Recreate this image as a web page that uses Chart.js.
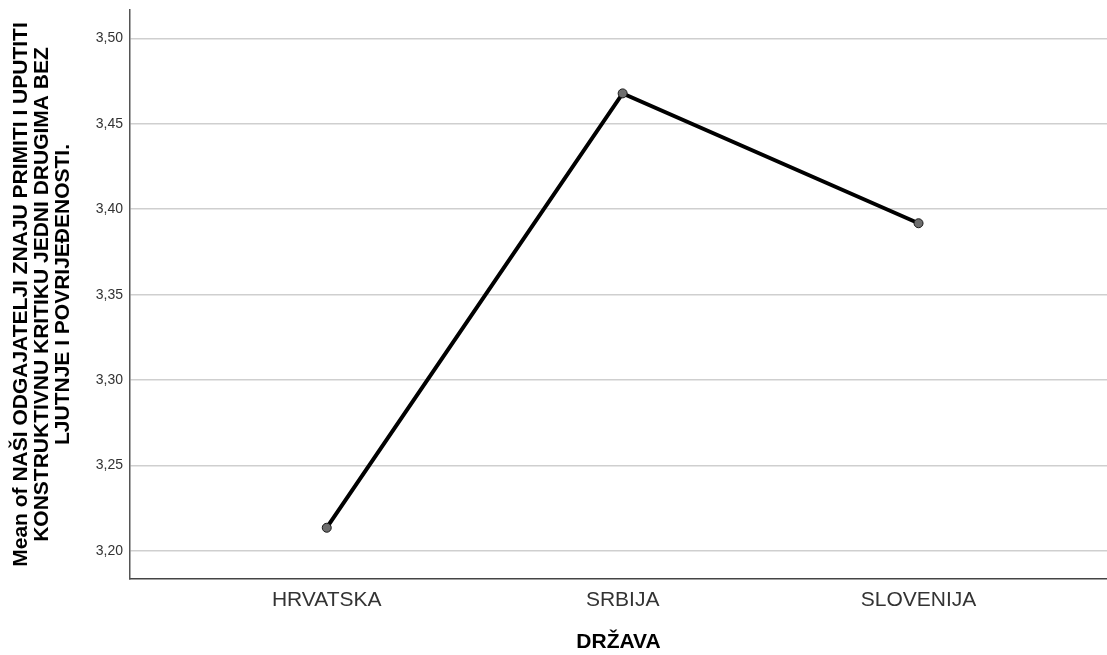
<!DOCTYPE html>
<html>
<head>
<meta charset="utf-8">
<script src="https://cdn.jsdelivr.net/npm/chart.js@4/dist/chart.umd.min.js"></script>
<style>
  html, body { margin: 0; padding: 0; background: #fff; }
  #wrap { width: 1107px; height: 655px; }
</style>
</head>
<body>
<div id="wrap"><canvas id="meanChart" width="1107" height="655"></canvas></div>
<script>
const categories = ['HRVATSKA', 'SRBIJA', 'SLOVENIJA'];
const means = [3.2136, 3.4678, 3.3918];
const yTitle = [
  'Mean of NAŠI ODGAJATELJI ZNAJU PRIMITI I UPUTITI',
  'KONSTRUKTIVNU KRITIKU JEDNI DRUGIMA BEZ',
  'LJUTNJE I POVRIJEĐENOSTI.',
];
const xTitle = 'DRŽAVA';

const points = means.map((v, i) => ({ x: i, y: v }));
const fontFamily = 'Liberation Sans, Arial, sans-serif';

const ctx = document.getElementById('meanChart').getContext('2d');
new Chart(ctx, {
  type: 'line',
  data: {
    datasets: [
      {
        data: points,
        borderColor: '#000',
        borderWidth: 4,
        pointRadius: 4.5,
        pointBackgroundColor: '#6e6e6e',
        pointBorderColor: '#1a1a1a',
        pointBorderWidth: 1,
        tension: 0,
      },
    ],
  },
  options: {
    responsive: false,
    animation: false,
    layout: { autoPadding: false, padding: { top: 10, right: 0, left: 0, bottom: 0 } },
    plugins: { legend: { display: false }, tooltip: { enabled: false } },
    scales: {
      x: {
        type: 'linear',
        min: -0.665,
        max: 2.637,
        grid: { display: false, drawTicks: false },
        border: { color: '#444', width: 1.5 },
        ticks: {
          stepSize: 1,
          includeBounds: false,
          autoSkip: false,
          maxRotation: 0,
          padding: 9,
          color: '#333',
          font: { family: fontFamily, size: 21 },
          callback: (v) => (Number.isInteger(v) && categories[v] ? categories[v] : ''),
        },
        title: {
          display: true,
          text: xTitle,
          color: '#000',
          font: { family: fontFamily, size: 21, weight: 'bold' },
          padding: { top: 4, bottom: 0 },
        },
        afterFit: (s) => {
          s.height = 76;
          s.paddingLeft = 0;
          s.paddingRight = 0;
        },
      },
      y: {
        min: 3.1836,
        max: 3.5166,
        grid: { color: '#cfcfcf', lineWidth: 1.5, drawTicks: false },
        border: { color: '#555', width: 1.5 },
        ticks: {
          stepSize: 0.05,
          includeBounds: false,
          padding: 7,
          color: '#333',
          font: { family: fontFamily, size: 14 },
          callback: (v) => v.toFixed(2).replace('.', ','),
        },
        title: {
          display: true,
          text: yTitle,
          color: '#000',
          font: { family: fontFamily, size: 21, weight: 'bold', lineHeight: 1.0 },
          padding: { top: 10.5, bottom: 0 },
        },
        afterFit: (s) => {
          s.width = 130;
          s.paddingTop = 0;
          s.paddingBottom = 0;
        },
      },
    },
  },
});
</script>
</body>
</html>
